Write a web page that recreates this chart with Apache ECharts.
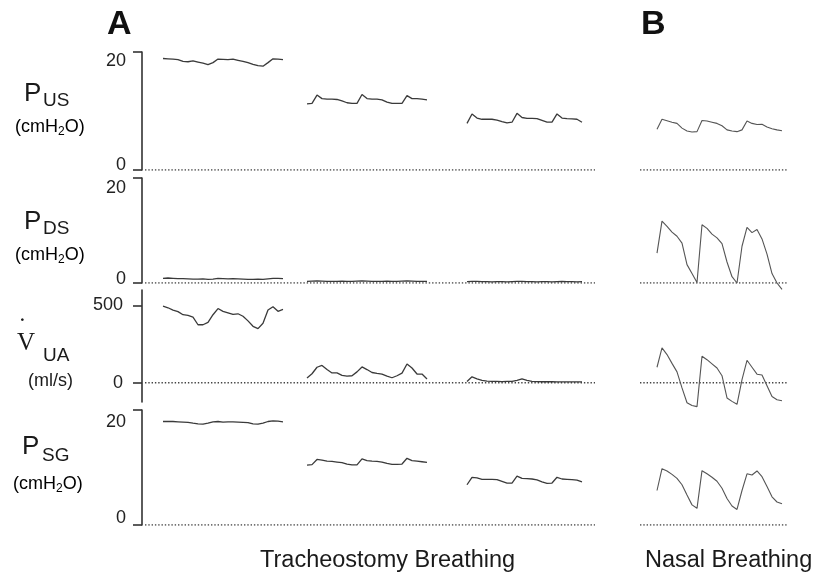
<!DOCTYPE html>
<html><head><meta charset="utf-8">
<script src="https://cdn.jsdelivr.net/npm/echarts@6/dist/echarts.min.js"></script>
<style>html,body{margin:0;padding:0;background:#fff}#c{width:826px;height:575px}</style>
</head><body><div id="c"></div>
<script>
// time (s) at which each recorded segment starts: A1, A2, A3 (tracheostomy), B (nasal)
const segStart = [1.05, 8.25, 16.25, 25.75];
const sampleStep = 0.25;
const zeroLineSpans = [[0.15, 22.65], [24.9, 32.3]];

// P_US (cmH2O)
const pUS_A1 = [18.9,18.85,18.8,18.7,18.4,18.35,18.5,18.3,18.1,17.85,18.2,18.8,18.75,18.7,18.8,18.6,18.4,18.2,17.9,17.7,17.6,18.2,18.85,18.8,18.7];
const pUS_A2 = [11.2,11.3,12.7,12.1,12.0,12.0,11.95,11.7,11.4,11.3,11.3,12.8,12.1,12.0,12.0,11.9,11.5,11.3,11.3,11.3,12.6,12.1,12.1,12.0,11.9];
const pUS_A3 = [7.9,9.5,8.8,8.6,8.6,8.6,8.45,8.2,8.0,8.1,9.6,8.9,8.75,8.75,8.7,8.4,8.1,8.1,9.5,8.8,8.7,8.65,8.6,8.1];
const pUS_B  = [6.9,8.6,8.35,8.1,7.9,7.1,6.6,6.45,6.5,8.4,8.3,8.1,7.9,7.5,6.8,6.6,6.5,6.8,8.3,7.9,7.7,7.75,7.3,7.0,6.8,6.65];

// P_DS (cmH2O)
const pDS_A1 = [0.9,0.95,0.9,0.85,0.85,0.8,0.75,0.75,0.8,0.7,0.75,0.9,0.85,0.8,0.85,0.8,0.75,0.7,0.7,0.75,0.7,0.8,0.9,0.9,0.85];
const pDS_A2 = [0.3,0.35,0.4,0.35,0.3,0.3,0.3,0.35,0.3,0.3,0.35,0.4,0.35,0.3,0.3,0.3,0.35,0.3,0.3,0.35,0.4,0.35,0.3,0.3,0.3];
const pDS_A3 = [0.25,0.3,0.3,0.25,0.25,0.2,0.25,0.25,0.2,0.25,0.3,0.3,0.25,0.25,0.2,0.25,0.25,0.2,0.25,0.3,0.25,0.25,0.2,0.25];
const pDS_B  = [5.7,11.8,10.8,9.7,8.9,7.6,3.5,1.8,0.1,11.1,10.4,9.3,8.6,7.5,4.0,1.2,0.0,7.0,10.6,9.6,10.2,8.4,5.5,1.8,0.0,-1.2];

// V_UA (ml/s)
const vUA_A1 = [495,485,470,460,440,436,425,375,375,390,440,480,462,452,442,446,430,400,365,350,385,470,492,462,474];
const vUA_A2 = [30,58,100,112,85,63,63,47,42,45,70,102,85,66,60,55,42,32,45,62,121,95,56,56,24];
const vUA_A3 = [8,38,25,15,10,8,8,7,8,8,15,24,15,8,7,6,6,6,5,5,5,5,5,5];
const vUA_B  = [100,225,182,125,70,-34,-130,-148,-155,171,149,122,95,45,-99,-121,-140,20,145,100,55,50,-20,-89,-110,-117];

// P_SG (cmH2O)
const pSG_A1 = [18.0,18.0,18.0,17.95,17.9,17.85,17.7,17.6,17.55,17.7,17.95,18.0,17.9,17.95,17.95,17.9,17.85,17.8,17.6,17.55,17.7,18.0,18.1,18.05,17.95];
const pSG_A2 = [10.4,10.5,11.4,11.3,11.1,11.05,10.95,10.85,10.6,10.45,10.45,11.5,11.2,11.1,11.05,10.95,10.7,10.55,10.55,10.6,11.6,11.2,11.1,11.0,10.9];
const pSG_A3 = [7.0,8.3,8.2,7.95,7.95,7.95,7.9,7.6,7.3,7.3,8.5,8.1,8.05,8.0,7.85,7.5,7.25,7.3,8.3,8.0,7.95,7.9,7.8,7.5];
const pSG_B  = [6.0,9.8,9.4,8.8,8.1,7.0,5.2,3.5,2.9,9.45,8.9,8.3,7.6,6.4,4.6,3.3,2.7,6.0,8.9,8.7,9.4,8.4,6.7,4.9,4.0,3.7];

// axis settings per panel
const yMin = [0, 0, -125, 0];
const yMax = [20, 20, 600, 20];
const yTicks = [[0,20],[0,20],[0,500],[0,20]];

const panels = [
  [pUS_A1, pUS_A2, pUS_A3, pUS_B],
  [pDS_A1, pDS_A2, pDS_A3, pDS_B],
  [vUA_A1, vUA_A2, vUA_A3, vUA_B],
  [pSG_A1, pSG_A2, pSG_A3, pSG_B]
];

const gridBox = [[52,118],[178,105],[290,112],[410,115]];
// label vertical nudges for top / bottom tick labels (scan offsets)
const labelShift = [[18,10],[20,8],[0,0],[24,14]];
const FONT = 'Liberation Sans, Arial, sans-serif';

const grids = [], xAxes = [], yAxes = [], series = [];
panels.forEach((segs, i) => {
  grids.push({left: 142, width: 648, top: gridBox[i][0], height: gridBox[i][1]});
  xAxes.push({type: 'value', gridIndex: i, min: 0, max: 32.4, show: false});
  const sh = labelShift[i];
  yAxes.push({
    type: 'value', gridIndex: i, min: yMin[i], max: yMax[i],
    axisLine: {show: true, lineStyle: {color: '#333', width: 1.6}},
    axisTick: {show: true, length: 9, customValues: yTicks[i], lineStyle: {color: '#333', width: 1.6}},
    axisLabel: {
      customValues: yTicks[i], margin: i === 2 ? 19 : 16,
      color: '#222', fontSize: 18, fontFamily: FONT,
      formatter: v => (v === yTicks[i][1] ? '{t|' + v + '}' : '{b|' + v + '}'),
      rich: {
        t: {fontSize: 18, fontFamily: FONT, color: '#222', padding: [sh[0], 0, 0, 0]},
        b: {fontSize: 18, fontFamily: FONT, color: '#222', padding: [0, 0, sh[1], 0]}
      }
    },
    splitLine: {show: false}
  });
  zeroLineSpans.forEach(sp => {
    series.push({
      type: 'line', xAxisIndex: i, yAxisIndex: i, silent: true, showSymbol: false, z: 1,
      data: [[sp[0], 0], [sp[1], 0]],
      lineStyle: {color: '#444', width: 1.4, type: [1.4, 1.9]}
    });
  });
  segs.forEach((arr, s) => {
    series.push({
      type: 'line', xAxisIndex: i, yAxisIndex: i, silent: true, showSymbol: false, z: 3, clip: false,
      data: arr.map((v, k) => [segStart[s] + k * sampleStep, v]),
      lineStyle: {color: s === 3 ? '#555' : '#3a3a3a', width: s === 3 ? 1.1 : 1.3}
    });
  });
});

function txt(x, y, text, size, extra) {
  return Object.assign({type: 'text', x: x, y: y, style: Object.assign({
    text: text, fill: '#1a1a1a', font: size + 'px ' + FONT, verticalAlign: 'middle', align: 'left'
  }, extra || {})});
}
const unitRich = {
  a: {fontSize: 18, fontFamily: FONT, color: '#1a1a1a'},
  s: {fontSize: 12, fontFamily: FONT, color: '#1a1a1a', padding: [10, 0, 0, 0]}
};
function unit(x, y) {
  return {type: 'text', x: x, y: y, style: {text: '{a|(cmH}{s|2}{a|O)}', rich: unitRich, verticalAlign: 'middle', align: 'left'}};
}

const graphics = [
  {type: 'text', x: 107, y: 25, style: {text: 'A', font: 'bold 34px ' + FONT, fill: '#111', verticalAlign: 'middle'}},
  {type: 'text', x: 641, y: 25, style: {text: 'B', font: 'bold 34px ' + FONT, fill: '#111', verticalAlign: 'middle'}},
  txt(24, 94, 'P', 26), txt(43, 101, 'US', 19), unit(15, 127),
  txt(24, 222, 'P', 26), txt(43, 229, 'DS', 19), unit(15, 255),
  {type: 'text', x: 17, y: 343, style: {text: 'V', font: '25px Liberation Serif, serif', fill: '#1a1a1a', verticalAlign: 'middle'}},
  {type: 'text', x: 18, y: 328, style: {text: '\u02D9', font: '26px Liberation Serif, serif', fill: '#1a1a1a', verticalAlign: 'middle'}},
  txt(43, 356, 'UA', 19), txt(28, 381, '(ml/s)', 18),
  txt(22, 447, 'P', 26), txt(42, 456, 'SG', 19), unit(13, 484),
  txt(260, 561, 'Tracheostomy Breathing', 23.5),
  txt(645, 561, 'Nasal Breathing', 23.5)
];

const chart = echarts.init(document.getElementById('c'), null, {renderer: 'canvas'});
chart.setOption({
  animation: false,
  backgroundColor: '#fff',
  grid: grids, xAxis: xAxes, yAxis: yAxes, series: series,
  graphic: graphics
});
</script></body></html>
